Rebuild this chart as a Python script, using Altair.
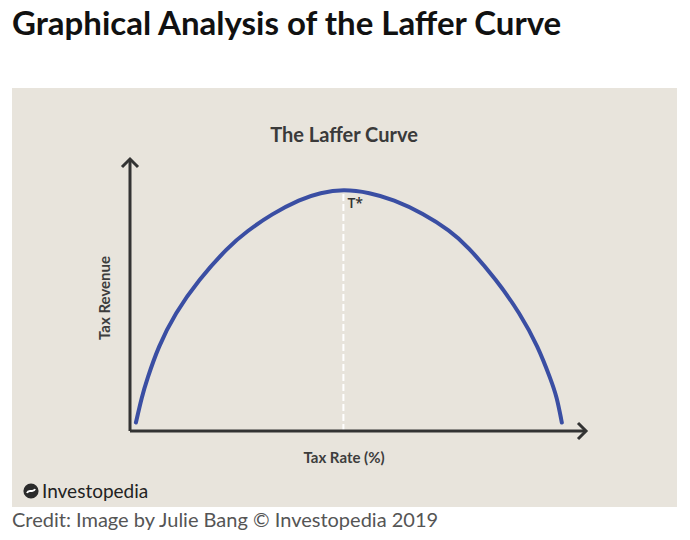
import altair as alt
import pandas as pd

# ---------------- data ----------------
tax_rate = [1.3, 2.6, 3.7, 6.2, 9.9, 15.0, 21.6, 25.6, 31.1, 37.3, 41.7, 46.8,
            52.6, 57.7, 64.3, 70.2, 73.9, 80.4, 85.5, 89.5, 92.3, 93.6, 94.7]
tax_revenue = [3.1, 12.6, 18.8, 31.0, 43.3, 55.5, 67.8, 73.4, 79.8, 85.2, 87.6, 88.9,
               87.6, 85.1, 80.0, 73.6, 68.2, 55.5, 43.3, 31.0, 18.8, 12.6, 3.1]
t_star_rate = [46.8]
t_star_revenue = [88.6]
t_star_label = ["T*"]
axis_max = [100]

title_text = "Graphical Analysis of the Laffer Curve"
panel_title = "The Laffer Curve"
x_title = "Tax Rate (%)"
y_title = "Tax Revenue"
brand_text = "Investopedia"
credit_text = "Credit: Image by Julie Bang \u00a9 Investopedia 2019"

# ---------------- layout ----------------
W, H = 456, 272
PAD_L, PAD_T = 130, 159
FONT = "Lato"

xs = alt.Scale(domain=[0, 100], nice=False, zero=True)
ys = alt.Scale(domain=[0, 100], nice=False, zero=True)


def X(field):
    return alt.X(field, scale=xs, axis=None)


def Y(field):
    return alt.Y(field, scale=ys, axis=None)


curve_df = pd.DataFrame({"rate": tax_rate, "revenue": tax_revenue})
tstar_df = pd.DataFrame({"rate": t_star_rate, "revenue": t_star_revenue,
                         "zero": [0], "label": t_star_label})
axes_df = pd.DataFrame({"x": [0, 0], "y": [0, 0],
                        "x2": [0, axis_max[0]], "y2": [axis_max[0], 0]})
up_df = pd.DataFrame({"x": [0], "y": axis_max})
right_df = pd.DataFrame({"x": axis_max, "y": [0]})
one = pd.DataFrame({"a": [0]})

panel = alt.Chart(one).mark_rect(color="#e8e4dc").encode(
    x=alt.value(12 - PAD_L), x2=alt.value(677 - PAD_L),
    y=alt.value(88 - PAD_T), y2=alt.value(507 - PAD_T))

axes = alt.Chart(axes_df).mark_rule(color="#333333", strokeWidth=3).encode(
    x=X("x:Q"), y=Y("y:Q"), x2="x2:Q", y2="y2:Q")

arrow_up = alt.Chart(up_df).mark_point(
    shape="M-1,1L0,0L1,1", filled=False, stroke="#333333", strokeWidth=3,
    size=256, opacity=1).encode(x=X("x:Q"), y=Y("y:Q"))

arrow_right = alt.Chart(right_df).mark_point(
    shape="M-1,-1L0,0L-1,1", filled=False, stroke="#333333", strokeWidth=3,
    size=256, opacity=1).encode(x=X("x:Q"), y=Y("y:Q"))

tstar_rule = alt.Chart(tstar_df).mark_rule(
    color="#ffffff", strokeWidth=2, strokeDash=[7, 3]).encode(
    x=X("rate:Q"), y=Y("zero:Q"), y2="revenue:Q")

curve = alt.Chart(curve_df).mark_line(
    color="#3a4ea3", strokeWidth=4, interpolate="basis", strokeCap="round").encode(
    x=X("rate:Q"), y=Y("revenue:Q"))

tstar_text = alt.Chart(tstar_df).mark_text(
    align="left", baseline="alphabetic", dx=4, dy=18, font="Open Sans",
    fontSize=14, fontWeight=600, color="#333333").encode(
    x=X("rate:Q"), y=Y("revenue:Q"), text="label:N")


def label(text, x, y, size, weight="bold", color="#3a3a3a", align="left", angle=0,
          baseline="alphabetic"):
    return alt.Chart(pd.DataFrame({"t": [text]})).mark_text(
        align=align, baseline=baseline, font=FONT, fontSize=size,
        fontWeight=weight, color=color, angle=angle).encode(
        x=alt.value(x - PAD_L), y=alt.value(y - PAD_T), text="t:N")


main_title = label(title_text, 12, 35, 33, "bold", "#111111")
sub_title = label(panel_title, 344, 142, 20, "bold", "#3a3a3a", align="center")
x_lab = label(x_title, 344, 463, 15, "bold", "#3d3d3d", align="center")
y_lab = label(y_title, 105, 298, 15, "bold", "#3d3d3d", align="center", angle=270,
              baseline="middle")
brand = label(brand_text, 42, 498, 19, "normal", "#222222")
credit = label(credit_text, 12, 527, 20, "normal", "#555555")

logo = alt.Chart(one).mark_point(shape="circle", filled=True, color="#2b2b2b",
                                 size=230, opacity=1).encode(
    x=alt.value(31 - PAD_L), y=alt.value(491 - PAD_T))
logo_swirl = alt.Chart(one).mark_point(
    shape="M-0.7,0.35C-0.35,-0.55,0.35,0.55,0.7,-0.35", filled=False,
    stroke="#ffffff", strokeWidth=2, size=130, opacity=1).encode(
    x=alt.value(31 - PAD_L), y=alt.value(491 - PAD_T))

chart = alt.layer(
    panel, tstar_rule, axes, arrow_up, arrow_right, curve, tstar_text,
    main_title, sub_title, x_lab, y_lab, logo, logo_swirl, brand, credit
).properties(
    width=W, height=H,
    autosize=alt.AutoSizeParams(type="none"),
    padding={"left": PAD_L, "top": PAD_T, "right": 690 - PAD_L - W,
             "bottom": 540 - PAD_T - H},
    background="#ffffff",
).configure_view(stroke=None)

chart.save("out.html", embed_options={"renderer": "svg", "actions": False})
